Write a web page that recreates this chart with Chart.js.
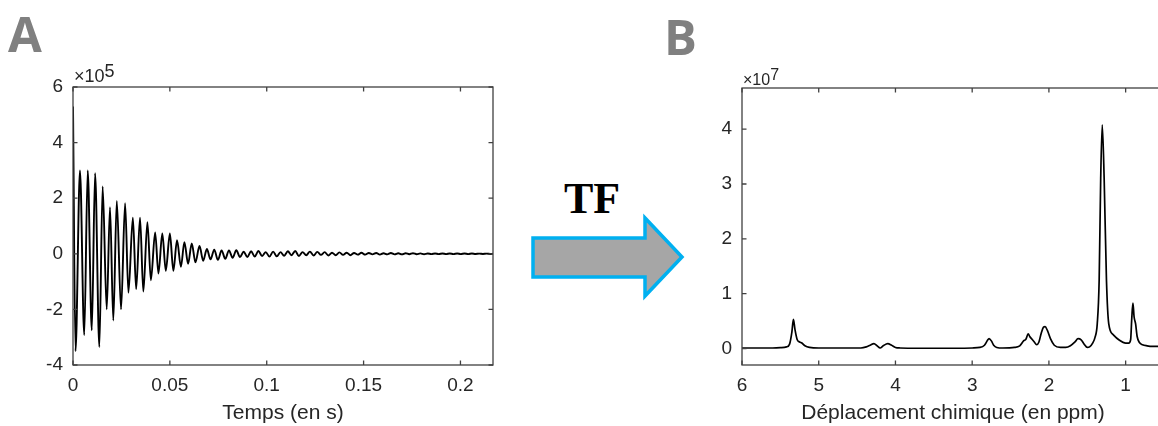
<!DOCTYPE html>
<html>
<head>
<meta charset="utf-8">
<script src="https://cdn.jsdelivr.net/npm/chart.js@4.4.1/dist/chart.umd.min.js"></script>
<style>
    html, body { margin: 0; padding: 0; background: #fff; width: 1158px; height: 426px; overflow: hidden; }
    .panel { position: absolute; top: 0; height: 426px; }
    #panel-fid { left: 0; width: 510px; }
    #panel-spec { left: 660px; width: 520px; }
    .letter { position: absolute; font-family: 'Open Sans', sans-serif; font-weight: 700; font-size: 49px; line-height: 1; color: #808080; }
    #tf { position: absolute; left: 564px; top: 177px; font-family: 'Liberation Serif', serif; font-weight: 700; font-size: 44px; line-height: 1; color: #000; }
    #arrow { position: absolute; left: 0; top: 0; }
</style>
</head>
<body>
<div class="letter" style="left:8px; top:9px;">A</div>
<div class="letter" style="left:664px; top:12px;">B</div>
<div id="tf">TF</div>
<svg id="arrow" width="1158" height="426">
    <polygon points="533,238 645,238 645,218 682,257 645,296 645,277 533,277"
             fill="#a6a6a6" stroke="#00b0f0" stroke-width="3.5" stroke-linejoin="miter"/>
</svg>
<div class="panel" id="panel-fid"><canvas id="fid-canvas"></canvas></div>
<div class="panel" id="panel-spec"><canvas id="spec-canvas"></canvas></div>

<script>
(function () {
    'use strict';

    // FID: temps (s) aux extremums successifs, amplitude en unites de 1e5
    var fidTime = [
        0, 0.0013, 0.0036, 0.0058, 0.0076, 0.0097, 0.0114, 0.0136, 0.0153, 0.0174,
        0.0191, 0.0208, 0.0226, 0.0248, 0.0269, 0.0286, 0.0309, 0.0326, 0.0346, 0.0363,
        0.0384, 0.0402, 0.0424, 0.0441, 0.0461, 0.0479, 0.0500, 0.0518, 0.0537, 0.0557,
        0.0575, 0.0594, 0.0613, 0.0632, 0.0653, 0.0672, 0.0691, 0.0710, 0.0729,
        0.0748, 0.0767, 0.0786, 0.0805, 0.0824, 0.0843, 0.0862, 0.0881, 0.0900, 0.0919,
        0.0938, 0.0957, 0.0976, 0.0995, 0.1014, 0.1033, 0.1052, 0.1071, 0.1090, 0.1109,
        0.1128, 0.1147, 0.1166, 0.1185, 0.1204, 0.1223, 0.1242, 0.1261, 0.1280, 0.1299,
        0.1318, 0.1337, 0.1356, 0.1375, 0.1394, 0.1413, 0.1432, 0.1451, 0.1470, 0.1489,
        0.1508, 0.1527, 0.1546, 0.1565, 0.1584, 0.1603, 0.1622, 0.1641, 0.1660, 0.1679,
        0.1698, 0.1717, 0.1736, 0.1755, 0.1774, 0.1793, 0.1812, 0.1831, 0.1850, 0.1869,
        0.1888, 0.1907, 0.1926, 0.1945, 0.1964, 0.1983, 0.2002, 0.2021, 0.2040, 0.2059,
        0.2078, 0.2097, 0.2116, 0.2135, 0.2154, 0.2168
    ];
    var fidAmp = [
        5.3, -3.5, 3.0, -2.92, 3.0, -2.75, 2.9, -3.35, 2.42, -2.0,
        1.68, -2.4, 1.9, -2.0, 1.82, -1.4, 1.3, -1.27, 1.3, -1.36,
        1.14, -0.95, 0.77, -0.71, 0.73, -0.61, 0.73, -0.61, 0.49, -0.47,
        0.42, -0.36, 0.37, -0.31, 0.28, -0.25, 0.17, -0.2, 0.15,
        -0.22, 0.12, -0.18, 0.12, -0.14, 0.13, -0.12, 0.08, -0.12, 0.09,
        -0.10, 0.10, -0.08, 0.06, -0.10, 0.08, -0.09, 0.06, -0.07, 0.09,
        -0.05, 0.10, -0.08, 0.06, -0.05, 0.08, -0.06, 0.07, -0.04, 0.06,
        -0.06, 0.04, -0.05, 0.05, -0.04, 0.04, -0.05, 0.03, -0.03, 0.04,
        -0.03, 0.03, -0.02, 0.03, -0.03, 0.02, -0.02, 0.03, -0.02, 0.02,
        -0.02, 0.02, -0.015, 0.02, -0.015, 0.015, -0.015, 0.01, -0.01, 0.01,
        -0.01, 0.01, -0.01, 0.01, -0.01, 0.01, -0.01, 0.01, -0.01, 0.01,
        -0.005, 0.005, -0.005, 0.005, -0.005, 0
    ];
    var fidXTicks = [0, 0.05, 0.1, 0.15, 0.2];
    var fidXLabels = ['0', '0.05', '0.1', '0.15', '0.2'];
    var fidYTicks = [-4, -2, 0, 2, 4, 6];
    var fidYLabels = ['-4', '-2', '0', '2', '4', '6'];

    // spectre RMN: deplacement chimique (ppm), intensite en unites de 1e7
    var ppm = [
        6.00, 5.80, 5.60, 5.50, 5.42, 5.38, 5.35, 5.33, 5.31, 5.28,
        5.25, 5.22, 5.18, 5.12, 5.00, 4.80, 4.60, 4.45, 4.38, 4.33,
        4.28, 4.24, 4.20, 4.16, 4.10, 4.05, 4.00, 3.94, 3.70, 3.50,
        3.20, 3.00, 2.90, 2.84, 2.80, 2.78, 2.75, 2.72, 2.68, 2.60,
        2.45, 2.38, 2.33, 2.30, 2.27, 2.25, 2.22, 2.19, 2.16, 2.13,
        2.10, 2.07, 2.05, 2.02, 1.98, 1.93, 1.85, 1.78, 1.72, 1.66,
        1.62, 1.58, 1.54, 1.50, 1.47, 1.43, 1.40, 1.37, 1.345, 1.325,
        1.305, 1.28, 1.25, 1.22, 1.16, 1.08, 1.00, 0.96, 0.935, 0.92,
        0.905, 0.89, 0.87, 0.85, 0.82, 0.78, 0.72, 0.65, 0.58, 0.50
    ];
    var intensity = [
        0.01, 0.01, 0.01, 0.015, 0.03, 0.08, 0.30, 0.53, 0.35, 0.16,
        0.12, 0.10, 0.05, 0.02, 0.01, 0.01, 0.01, 0.01, 0.03, 0.06,
        0.09, 0.05, 0.01, 0.05, 0.09, 0.06, 0.02, 0.01, 0.005, 0.005,
        0.005, 0.01, 0.02, 0.06, 0.15, 0.18, 0.14, 0.06, 0.02, 0.01,
        0.02, 0.05, 0.14, 0.17, 0.27, 0.22, 0.17, 0.12, 0.07, 0.12,
        0.28, 0.39, 0.40, 0.33, 0.18, 0.06, 0.02, 0.02, 0.05, 0.12,
        0.18, 0.16, 0.08, 0.02, 0.03, 0.10, 0.20, 0.45, 1.25, 3.1,
        4.08, 3.1, 1.25, 0.45, 0.25, 0.15, 0.10, 0.10, 0.16, 0.55,
        0.83, 0.58, 0.45, 0.22, 0.11, 0.07, 0.05, 0.04, 0.04, 0.04
    ];
    var specXTicks = [6, 5, 4, 3, 2, 1];
    var specXLabels = ['6', '5', '4', '3', '2', '1'];
    var specYTicks = [0, 1, 2, 3, 4];
    var specYLabels = ['0', '1', '2', '3', '4'];

    var FONT = "'Liberation Sans', Arial, Helvetica, sans-serif";
    var TEXT = '#262626';
    var AXIS = '#404040';

    // closed box with inward ticks on all four sides, plus the x10^n factor
    var boxPlugin = {
        id: 'boxAxes',
        afterDraw: function (chart, args, opts) {
            var ctx = chart.ctx;
            var a = chart.chartArea;
            var xs = chart.scales.x;
            var ys = chart.scales.y;
            var len = 4.5;
            ctx.save();
            ctx.strokeStyle = AXIS;
            ctx.lineWidth = 1.3;
            ctx.strokeRect(a.left, a.top, a.right - a.left, a.bottom - a.top);
            ctx.beginPath();
            xs.ticks.forEach(function (t) {
                var px = xs.getPixelForValue(t.value);
                ctx.moveTo(px, a.bottom);
                ctx.lineTo(px, a.bottom - len);
                ctx.moveTo(px, a.top);
                ctx.lineTo(px, a.top + len);
            });
            ys.ticks.forEach(function (t) {
                var py = ys.getPixelForValue(t.value);
                ctx.moveTo(a.left, py);
                ctx.lineTo(a.left + len, py);
                ctx.moveTo(a.right, py);
                ctx.lineTo(a.right - len, py);
            });
            ctx.stroke();

            ctx.fillStyle = TEXT;
            ctx.textBaseline = 'alphabetic';
            ctx.textAlign = 'left';
            ctx.font = opts.size + 'px ' + FONT;
            var base = a.top - opts.lift;
            ctx.fillText('\u00d710', a.left + 1, base);
            var w = ctx.measureText('\u00d710').width;
            ctx.fillText(opts.exponent, a.left + 1 + w, base - Math.round(opts.size * 0.3));
            ctx.restore();
        }
    };

    function fixedTicks(values) {
        return function (scale) {
            scale.ticks = values.map(function (v) {
                return { value: v };
            });
        };
    }

    function tickOptions(labels, padding) {
        return {
            color: TEXT,
            padding: padding,
            maxRotation: 0,
            autoSkip: false,
            font: { family: FONT, size: 19 },
            callback: function (value, index) {
                return labels[index];
            },
        };
    }

    function makeChart(canvasId, cfg) {
        var points = cfg.xs.map(function (x, i) {
            return { x: x, y: cfg.ys[i] };
        });
        return new Chart(document.getElementById(canvasId), {
            type: 'line',
            data: {
                datasets: [
                    {
                        data: points,
                        borderColor: '#000',
                        borderWidth: cfg.lineWidth,
                        pointRadius: 0,
                        fill: false,
                        cubicInterpolationMode: 'monotone',
                    },
                ],
            },
            options: {
                responsive: true,
                maintainAspectRatio: false,
                animation: false,
                events: [],
                layout: { padding: cfg.padding },
                plugins: {
                    legend: { display: false },
                    tooltip: { enabled: false },
                    boxAxes: { exponent: cfg.exponent, lift: cfg.lift, size: cfg.expSize },
                },
                scales: {
                    x: {
                        type: 'linear',
                        reverse: cfg.reverse,
                        min: cfg.xMin,
                        max: cfg.xMax,
                        grid: { display: false, drawTicks: false },
                        border: { display: false },
                        afterBuildTicks: fixedTicks(cfg.xTicks),
                        afterFit: function (s) {
                            s.height = 61;
                        },
                        ticks: tickOptions(cfg.xLabels, 9),
                        title: {
                            display: true,
                            text: cfg.xTitle,
                            color: TEXT,
                            font: { family: FONT, size: 21 },
                            padding: 0,
                        },
                    },
                    y: {
                        type: 'linear',
                        min: cfg.yMin,
                        max: cfg.yMax,
                        grid: { display: false, drawTicks: false },
                        border: { display: false },
                        afterBuildTicks: fixedTicks(cfg.yTicks),
                        afterFit: function (s) {
                            s.width = cfg.yWidth;
                        },
                        ticks: tickOptions(cfg.yLabels, 10),
                    },
                },
            },
            plugins: [boxPlugin],
        });
    }

    makeChart('fid-canvas', {
        xs: fidTime,
        ys: fidAmp,
        xMin: 0,
        xMax: 0.2168,
        yMin: -4,
        yMax: 6,
        reverse: false,
        xTicks: fidXTicks,
        xLabels: fidXLabels,
        yTicks: fidYTicks,
        yLabels: fidYLabels,
        xTitle: 'Temps (en s)',
        exponent: '5',
        lift: 5,
        expSize: 18,
        lineWidth: 1.9,
        yWidth: 73,
        padding: { left: 0, top: 87, right: 17, bottom: 0 },
    });

    makeChart('spec-canvas', {
        xs: ppm,
        ys: intensity,
        xMin: 0.5,
        xMax: 6,
        yMin: -0.3,
        yMax: 4.75,
        reverse: true,
        xTicks: specXTicks,
        xLabels: specXLabels,
        yTicks: specYTicks,
        yLabels: specYLabels,
        xTitle: 'D\u00e9placement chimique (en ppm)',
        exponent: '7',
        lift: 3,
        expSize: 16,
        lineWidth: 1.7,
        yWidth: 82,
        padding: { left: 0, top: 88, right: 16, bottom: 0 },
    });
})();
</script>
</body>
</html>
